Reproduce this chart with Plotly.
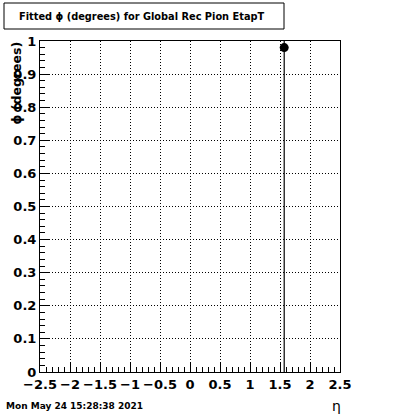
import plotly.graph_objects as go

# Data
eta_values = [1.57]
phi_values = [0.98]
phi_errors = [1.0]

x_tick_vals = [-2.5, -2, -1.5, -1, -0.5, 0, 0.5, 1, 1.5, 2, 2.5]
x_tick_text = ["\u22122.5", "\u22122", "\u22121.5", "\u22121", "\u22120.5", "0", "0.5", "1", "1.5", "2", "2.5"]
y_tick_vals = [0, 0.1, 0.2, 0.3, 0.4, 0.5, 0.6, 0.7, 0.8, 0.9, 1.0]
y_tick_text = ["0", "0.1", "0.2", "0.3", "0.4", "0.5", "0.6", "0.7", "0.8", "0.9", "1"]

title_text = "Fitted \u03d5 (degrees) for Global Rec Pion EtapT"
y_title = "\u03d5 (degrees)"
x_title = "\u03b7"
date_text = "Mon May 24 15:28:38 2021"

FONT = "DejaVu Sans"

fig = go.Figure()
fig.add_trace(go.Scatter(
    x=eta_values, y=phi_values, mode="markers",
    marker=dict(color="black", size=9, symbol="circle"),
    error_y=dict(type="data", array=phi_errors, color="black", thickness=1.2, width=0),
    showlegend=False,
))

axis_common = dict(
    showline=True, mirror=True, linecolor="black", linewidth=1,
    ticks="inside", ticklen=9, tickcolor="black",
    showgrid=True, gridcolor="black", griddash="1px,2px", gridwidth=1,
    zeroline=False, automargin=False, tickangle=0,
    tickfont=dict(family=FONT, size=13, color="black", weight="bold"),
)

fig.update_xaxes(
    range=[-2.5, 2.5], tickmode="array", tickvals=x_tick_vals, ticktext=x_tick_text,
    minor=dict(ticks="inside", ticklen=5, tickcolor="black", tickmode="linear", tick0=0, dtick=0.1, showgrid=False),
    **axis_common,
)
fig.update_yaxes(
    range=[0, 1], tickmode="array", tickvals=y_tick_vals, ticktext=y_tick_text,
    minor=dict(ticks="inside", ticklen=5, tickcolor="black", tickmode="linear", tick0=0, dtick=0.02, showgrid=False),
    **axis_common,
)

fig.update_layout(
    width=400, height=414,
    margin=dict(l=40, r=60, t=41, b=42, pad=0),
    paper_bgcolor="white", plot_bgcolor="white",
    font=dict(family=FONT, color="black"),
)

def px(sx):
    return (sx - 40) / 300

def py(sy):
    return (372 - sy) / 331

# Title box
fig.add_shape(type="rect", xref="paper", yref="paper",
              x0=px(4), x1=px(284), y0=py(29), y1=py(3),
              line=dict(color="black", width=1), fillcolor="white", layer="above")
fig.add_annotation(text=title_text, xref="paper", yref="paper",
                   x=px(142), y=py(16), xanchor="center", yanchor="middle",
                   showarrow=False, font=dict(family=FONT, size=9.8, weight="bold", color="black"))

# Y axis title
fig.add_annotation(text=y_title, xref="paper", yref="paper",
                   x=px(16), y=py(40), xanchor="center", yanchor="top",
                   textangle=-90, showarrow=False,
                   font=dict(family=FONT, size=12.5, weight="bold", color="black"))

# X axis title
fig.add_annotation(text=x_title, xref="paper", yref="paper",
                   x=px(336), y=py(406), xanchor="center", yanchor="middle",
                   showarrow=False, font=dict(family=FONT, size=14, color="black"))

# Date
fig.add_annotation(text=date_text, xref="paper", yref="paper",
                   x=px(4), y=py(406), xanchor="left", yanchor="middle",
                   showarrow=False, font=dict(family=FONT, size=9, weight="bold", color="black"))

fig.write_html("out.html", config={"displayModeBar": False},
               post_script="document.body.style.margin='0';document.body.style.padding='0';")
